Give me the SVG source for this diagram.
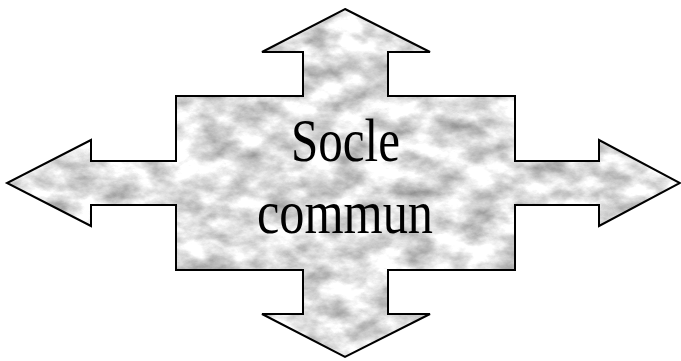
<svg xmlns="http://www.w3.org/2000/svg" width="681" height="361" viewBox="0 0 681 361">
  <defs>
    <filter id="marble" x="0" y="0" width="100%" height="100%" color-interpolation-filters="sRGB">
      <feTurbulence type="fractalNoise" baseFrequency="0.03 0.05" numOctaves="6" seed="7" result="n"/>
      <feColorMatrix in="n" type="matrix" values="0.75 0 0 0 0.5  0.75 0 0 0 0.5  0.75 0 0 0 0.5  0 0 0 0 1" result="g"/>
      <feComposite in="g" in2="SourceGraphic" operator="in"/>
    </filter>
    <polygon id="quad" points="345,9 430,52 388,52 388,96 515,96 515,161 599,161 599,140 680,183 599,226 599,205 515,205 515,270 388,270 388,314 430,314 345,357 262,314 303,314 303,270 176,270 176,205 91,205 91,226 7,183 91,140 91,161 176,161 176,96 303,96 303,52 262,52"/>
  </defs>
  <style>
    .fill { fill: #e0e0e0; filter: url(#marble); }
    .edge { fill: none; stroke: #000; stroke-width: 2; stroke-linejoin: miter; }
    .label { font-family: "Liberation Serif", "Times New Roman", serif; font-size: 62px; fill: #000; text-anchor: middle; }
  </style>
  <g id="socle-commun">
    <use href="#quad" class="fill"/>
    <use href="#quad" class="edge"/>
    <text class="label" x="345.5" y="161" textLength="109" lengthAdjust="spacingAndGlyphs">Socle</text>
    <text class="label" x="345" y="233" textLength="176" lengthAdjust="spacingAndGlyphs">commun</text>
  </g>
</svg>
